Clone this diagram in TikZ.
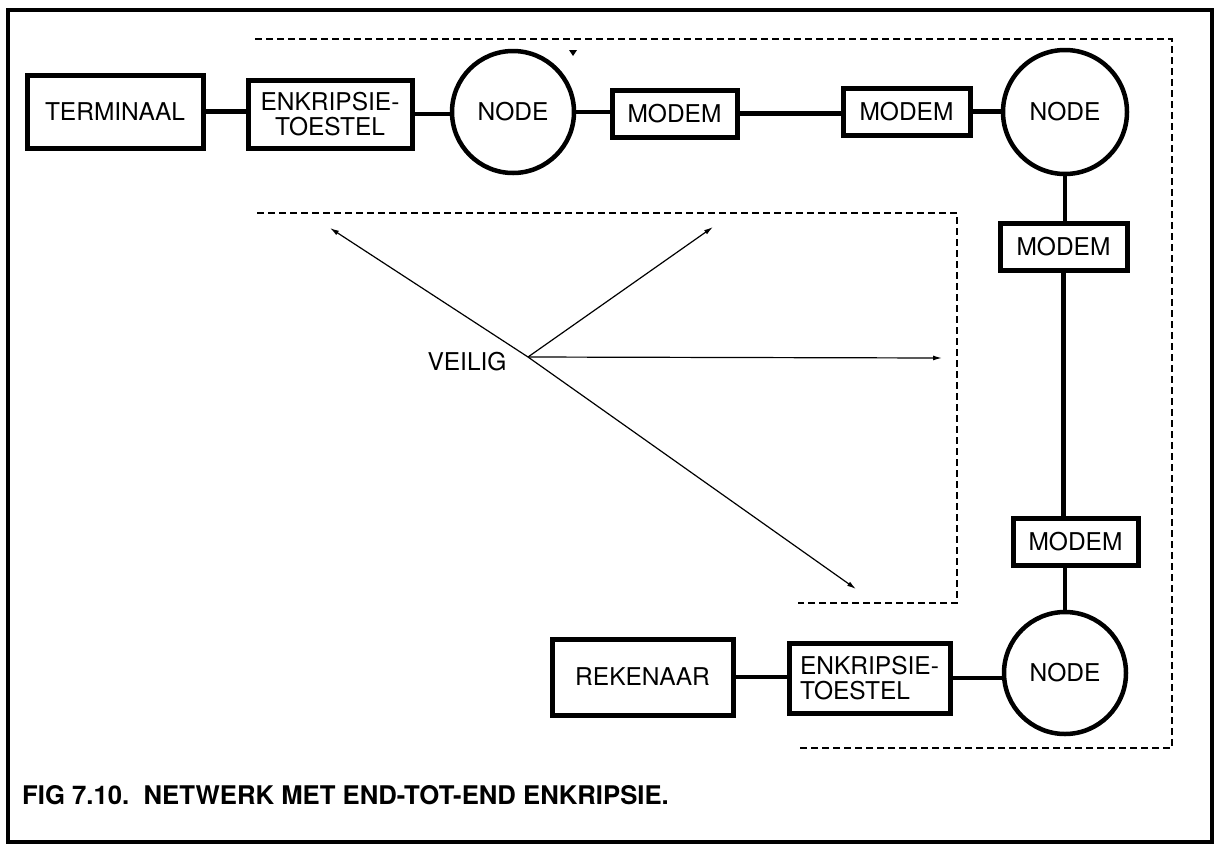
\documentclass[tikz,border=0pt]{standalone}
\usepackage{fontspec}
\setmainfont{TeX Gyre Heros}
\usetikzlibrary{arrows.meta}
\newcommand\figtext{\fontsize{24.5}{25}\selectfont}
\newcommand\captext{\fontsize{25.7}{27}\selectfont\bfseries}
\begin{document}
\begin{tikzpicture}[x=1pt,y=-1pt,
  box/.style={draw,line width=5pt,rectangle,inner sep=0pt,font=\figtext,align=center},
  hub/.style={draw,line width=4.5pt,circle,inner sep=0pt,font=\figtext},
  link/.style={line width=4.5pt},
  zone/.style={line width=1.4pt,dash pattern=on 7pt off 4pt},
  ray/.style={line width=1.2pt,-{Latex[length=9pt,width=5pt]}}]
\fill[white] (0,0) rectangle (1219,847);
\useasboundingbox (0,0) rectangle (1219,847);

% outer frame
\draw[line width=4.5pt] (8,10) rectangle (1212,842);

% top row
\node[box,minimum width=176pt,minimum height=73pt] (term) at (115,111.5) {TERMINAAL};
\node[box,minimum width=164pt,minimum height=68pt] (enc1) at (330,114) {ENKRIPSIE-\\TOESTEL};
\node[hub,minimum size=122pt] (node1) at (513,112) {NODE};
\node[box,minimum width=125pt,minimum height=47pt] (mod1) at (674.5,113.5) {MODEM};
\node[box,minimum width=127pt,minimum height=47pt] (mod2) at (906.5,111.5) {MODEM};
\node[hub,minimum size=124pt] (node2) at (1065,112) {NODE};

% right column
\node[box,minimum width=127pt,minimum height=47pt] (mod3) at (1063.5,246.5) {MODEM};
\node[box,minimum width=125pt,minimum height=47pt] (mod4) at (1075.5,541.5) {MODEM};
\node[hub,minimum size=122pt] (node3) at (1065,673) {NODE};

% bottom row
\node[box,minimum width=181pt,minimum height=76pt] (rek) at (642.5,677) {REKENAAR};
\node[box,minimum width=161pt,minimum height=70pt,align=left] (enc2) at (869.5,678) {ENKRIPSIE-\\TOESTEL};

% connections
\draw[link] (term.east) -- (term.east -| enc1.west);
\draw[link] (enc1.east) -- (enc1.east -| node1.west);
\draw[link] (node1.east) -- (node1.east -| mod1.west);
\draw[link] (mod1.east) -- (mod1.east -| mod2.west);
\draw[link] (mod2.east) -- (mod2.east -| node2.west);
\draw[link] (node2.south) -- (node2.south |- mod3.north);
\draw[link] (mod3.south) -- (mod3.south |- mod4.north);
\draw[link] (node3.north |- mod4.south) -- (node3.north);
\draw[link] (rek.east) -- (rek.east -| enc2.west);
\draw[link] (enc2.east) -- (enc2.east -| node3.west);

% dashed zones
\draw[zone] (255,39) -- (1172,39) -- (1172,748) -- (798,748);
\draw[zone] (257,213) -- (957,213) -- (957,603) -- (798,603);

% secure zone rays
\coordinate (o) at (528,357);
\coordinate (ul) at (330,228);
\coordinate (ur) at (713,227);
\coordinate (rt) at (942,358);
\coordinate (lr) at (856,589);
\draw[ray] (o) -- (ul);
\draw[ray] (o) -- (ur);
\draw[ray] (o) -- (rt);
\draw[ray] (o) -- (lr);
\node[font=\figtext] (veilig) at (467,362) {VEILIG};

% small mark above the first node
\fill (569,50) -- (577,50) -- (573,56) -- cycle;

% caption
\node[anchor=west,font=\captext,inner sep=0pt] (cap) at (22,795) {FIG 7.10.\ \ NETWERK MET END-TOT-END ENKRIPSIE.};
\end{tikzpicture}
\end{document}
